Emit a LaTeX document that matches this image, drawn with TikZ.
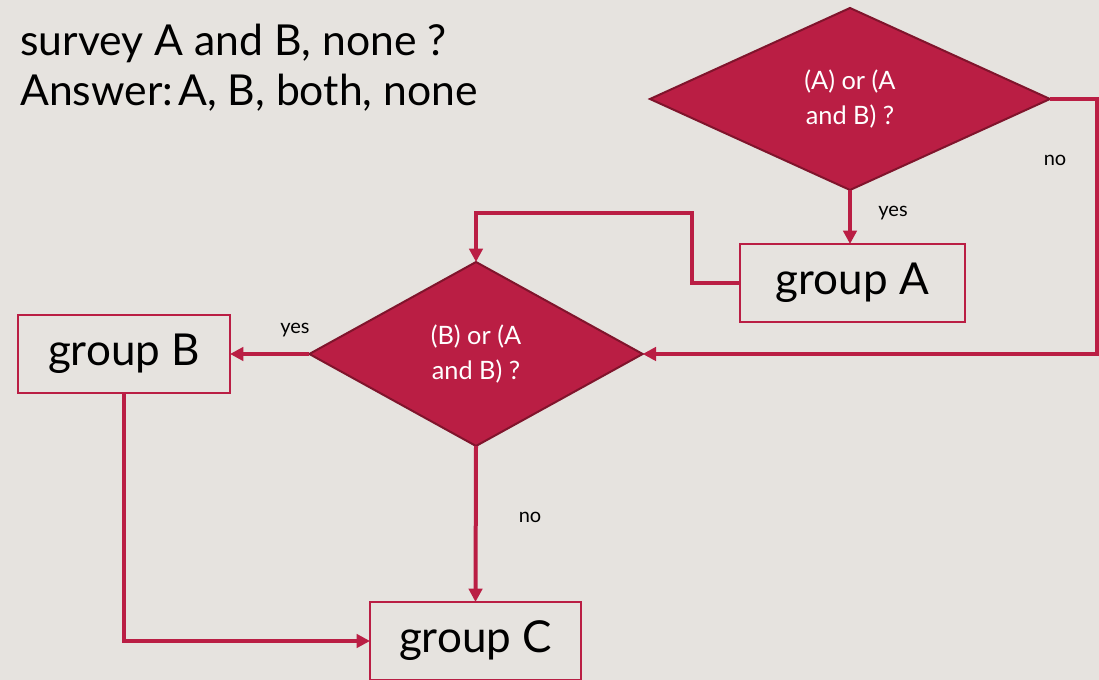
\documentclass[tikz,border=0pt]{standalone}
\usepackage{fontspec}
\setmainfont{Lato}
\usetikzlibrary{shapes.geometric,arrows.meta,positioning}

\definecolor{crimson}{RGB}{186,30,68}
\definecolor{darkcrimson}{RGB}{128,20,44}
\definecolor{slide}{RGB}{230,227,223}

\tikzset{
  decision/.style={diamond, fill=crimson, draw=darkcrimson, line width=1.5pt,
    inner sep=0pt, outer sep=0pt, text=white, align=center,
    font=\fontsize{19}{26}\selectfont},
  groupbox/.style={rectangle, draw=crimson, line width=1.5pt, outer sep=0pt,
    minimum height=58.5pt, font=\fontsize{33}{36}\selectfont},
  flow/.style={draw=crimson, line width=3pt, -{Triangle[length=10pt,width=10pt]}},
  answer/.style={font=\fontsize{15}{16}\selectfont},
}

\begin{document}
\begin{tikzpicture}[x=0.75pt, y=-0.75pt]
        \fill[slide] (0,0) rectangle (1099,680);
        \useasboundingbox (0,0) rectangle (1099,680);

        \node[anchor=north west, align=left, inner sep=0pt,
          font=\fontsize{32}{37}\selectfont] (survey) at (20,24)
          {survey A and B, none ?\\Answer:\hspace{0.12em}A, B, both, none};

        \node[decision, minimum width=300pt, minimum height=136.5pt] (askA) at (850,99)
          {(A) or (A\\and B) ?};
        \node[decision, minimum width=250pt, minimum height=138pt] (askB) at (476,354)
          {(B) or (A\\and B) ?};

        \node[groupbox, minimum width=168.75pt] (groupA) at (852.5,283) {group A};
        \node[groupbox, minimum width=159pt] (groupB) at (124,354) {group B};
        \node[groupbox, minimum width=158.25pt] (groupC) at (475.5,641) {group C};

        \draw[flow] (askA.south) -- (askA.south |- groupA.north);
        \draw[flow] (askA.east) -- ++(47,0) |- (askB.east);
        \draw[flow] (groupA.west) -| (692,213) -| (askB.north);
        \draw[flow] (askB.west) -- (groupB.east);
        \draw[flow] (askB.south) -- (groupC.north);
        \draw[flow] (groupB.south) |- (groupC.west);

        \node[answer] (yesA) at (893,213) {yes};
        \node[answer] (noA) at (1055,160) {no};
        \node[answer] (yesB) at (295,330) {yes};
        \node[answer] (noB) at (530,517) {no};
    \end{tikzpicture}
\end{document}
